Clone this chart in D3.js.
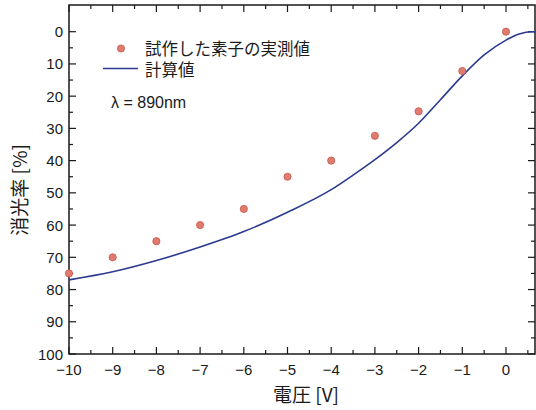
<!DOCTYPE html>
<html><head><meta charset="utf-8">
<script src="https://cdn.jsdelivr.net/npm/d3@7"></script>
<style>body{margin:0;background:#fff}svg{display:block}</style>
</head><body>
<svg id="c" width="536" height="410"></svg>
<script>
const measuredV = [-10,-9,-8,-7,-6,-5,-4,-3,-2,-1,0];
const measuredE = [75,70,65,60,55,45,40,32.3,24.7,12.2,0];
const calcV = [-10,-9,-8,-7,-6,-5,-4,-3.5,-3,-2.5,-2,-1.5,-1,-0.5,0,0.3,0.6,0.7];
const calcE = [77,74.5,71,66.8,62,56,49,44.5,39.7,34.4,28.4,21.1,13.7,7.2,2.6,0.7,0,0];
const xTicks = [-10,-9,-8,-7,-6,-5,-4,-3,-2,-1,0];
const yTicks = [0,10,20,30,40,50,60,70,80,90,100];
const labels = {x:"電圧 [V]", y:"消光率 [%]", meas:"試作した素子の実測値", calc:"計算値", lambda:"λ = 890nm"};

const svg = d3.select("#c");
const L=69, R=535, T=5, B=354;
const x = d3.scaleLinear().domain([-10,0]).range([L,506]);
const y = d3.scaleLinear().domain([0,100]).range([31.7,B]);
const fnum = "'Liberation Sans', Arial, sans-serif";
const fjp = "'Noto Sans CJK JP', sans-serif";
const fleg = "'Liberation Sans', 'Noto Sans CJK JP', sans-serif";
const ink = "#1a1a1a";

// frame
svg.append("rect").attr("x",L).attr("y",T).attr("width",R-L).attr("height",B-T)
  .attr("fill","none").attr("stroke",ink).attr("stroke-width",1.5);

const xMinor = d3.range(-10,0.75,0.5);
const yMinor = d3.range(0,101,5);
const g = svg.append("g").attr("stroke",ink).attr("stroke-width",1.2);
xMinor.forEach(v=>{
  const major = Math.abs(v-Math.round(v))<1e-6;
  const len = major?7:4;
  g.append("line").attr("x1",x(v)).attr("x2",x(v)).attr("y1",B).attr("y2",B-len);
  g.append("line").attr("x1",x(v)).attr("x2",x(v)).attr("y1",T).attr("y2",T+len);
});
yMinor.forEach(v=>{
  const major = v%10===0;
  const len = major?7:4;
  g.append("line").attr("x1",L).attr("x2",L+len).attr("y1",y(v)).attr("y2",y(v));
  g.append("line").attr("x1",R).attr("x2",R-len).attr("y1",y(v)).attr("y2",y(v));
});

// tick labels
svg.append("g").selectAll("text").data(xTicks).join("text")
  .attr("x",d=>x(d)).attr("y",375).attr("text-anchor","middle")
  .attr("font-family",fnum).attr("font-size",15).attr("fill",ink)
  .text(d=>d<0?"\u2212"+Math.abs(d):d);
svg.append("g").selectAll("text").data(yTicks).join("text")
  .attr("x",63).attr("y",d=>y(d)+5.5).attr("text-anchor","end")
  .attr("font-family",fnum).attr("font-size",15).attr("fill",ink)
  .text(d=>d);

// axis titles
svg.append("text").attr("x",306).attr("y",402).attr("text-anchor","middle")
  .attr("font-family",fjp).attr("font-size",19).attr("fill",ink).text(labels.x);
svg.append("text").attr("transform","translate(27,190) rotate(-90)").attr("text-anchor","middle")
  .attr("font-family",fjp).attr("font-size",19).attr("fill",ink).text(labels.y);

// curve
const line = d3.line().x(d=>x(d[0])).y(d=>y(d[1])).curve(d3.curveMonotoneX);
svg.append("path").datum(calcV.map((v,i)=>[v,calcE[i]]))
  .attr("d",line).attr("fill","none").attr("stroke","#2b3a8f").attr("stroke-width",1.6);

// points
svg.append("g").selectAll("circle").data(measuredV.map((v,i)=>[v,measuredE[i]])).join("circle")
  .attr("cx",d=>x(d[0])).attr("cy",d=>y(d[1])).attr("r",3.6)
  .attr("fill","#e07b70").attr("stroke","#c9554a").attr("stroke-width",0.8);

// legend
svg.append("circle").attr("cx",121).attr("cy",48.5).attr("r",3.6)
  .attr("fill","#e07b70").attr("stroke","#c9554a").attr("stroke-width",0.8);
svg.append("line").attr("x1",103).attr("x2",138).attr("y1",68.5).attr("y2",68.5)
  .attr("stroke","#2b3a8f").attr("stroke-width",1.6);
svg.append("text").attr("x",145).attr("y",54.5).attr("font-family",fleg).attr("font-size",16.5)
  .attr("fill",ink).text(labels.meas);
svg.append("text").attr("x",145).attr("y",75.5).attr("font-family",fleg).attr("font-size",16.5)
  .attr("fill",ink).text(labels.calc);
svg.append("text").attr("x",111).attr("y",108).attr("font-family",fnum).attr("font-size",16)
  .attr("fill",ink).text(labels.lambda);
</script>
</body></html>
